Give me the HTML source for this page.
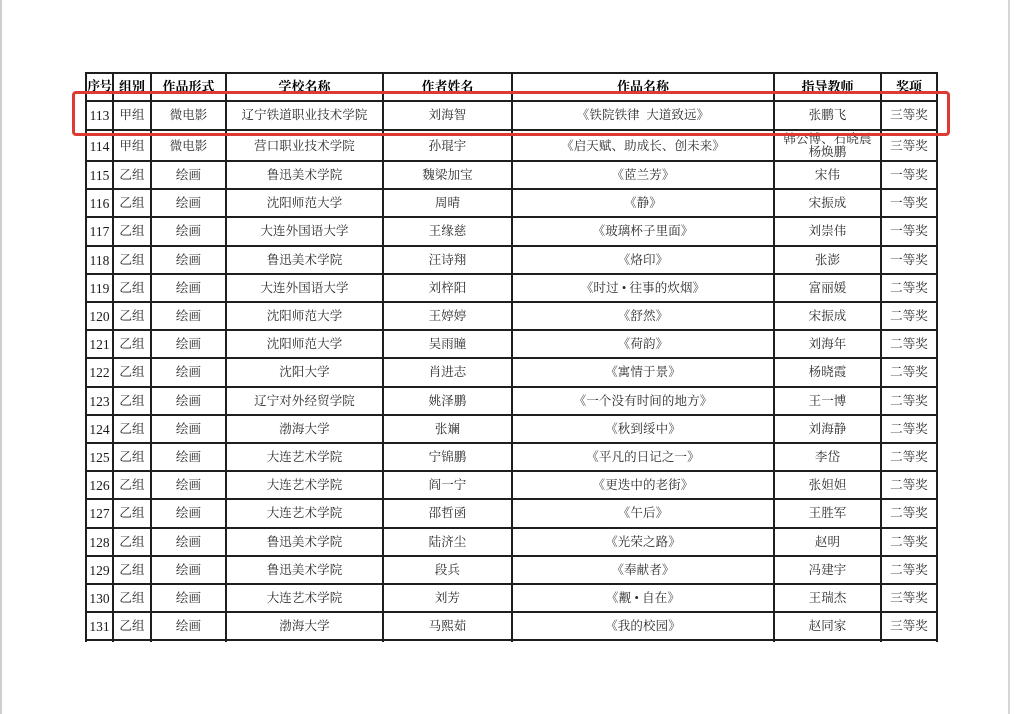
<!DOCTYPE html>
<html>
<head>
<meta charset="utf-8">
<style>
  html,body{margin:0;padding:0;background:#fff;}
  body{width:1014px;height:714px;position:relative;overflow:hidden;
       font-family:"Liberation Serif","Noto Serif CJK SC",serif;color:#2a2a2a;}
  .edgeL{position:absolute;left:0;top:0;width:2px;height:714px;background:#cfcfcf;}
  .edgeR{position:absolute;left:1008px;top:0;width:2px;height:714px;background:#d6d6d6;}
  .h{position:absolute;left:86px;width:852px;height:2px;background:#1e1e1e;}
  .v{position:absolute;top:72px;width:2px;height:570px;background:#1e1e1e;}
  .row{position:absolute;left:86px;width:851px;display:flex;}
  .row > div{flex:none;display:flex;align-items:center;justify-content:center;
       font-size:12.5px;letter-spacing:0.1px;white-space:nowrap;line-height:13px;text-align:center;padding-top:1px;box-sizing:border-box;}
  .c1{width:27px;}.c2{width:38px;}.c3{width:75px;}.c4{width:157px;}
  .c5{width:129px;}.c6{width:262px;}.c7{width:107px;}.c8{width:56px;}
  .row > div.c1{font-family:"Liberation Serif",serif;font-size:13.5px;letter-spacing:0;color:#1a1a1a;}
  .hd > div{font-weight:bold;color:#000;font-size:13px;letter-spacing:0;}
  .hd > div.c1{font-family:"Liberation Serif","Noto Serif CJK SC",serif;font-size:12.5px;letter-spacing:-0.5px;color:#000;}
  .red{position:absolute;left:72px;top:91px;width:878px;height:45px;box-sizing:border-box;
       border:3px solid #dc3a33;border-radius:4px;}
</style>
</head>
<body>
<div class="edgeL"></div>
<div class="edgeR"></div>

<!-- horizontal lines -->
<div class="h" style="top:72px"></div>
<div class="h" style="top:100px"></div>
<div class="h" style="top:129px"></div>
<div class="h" style="top:160px"></div>
<div class="h" style="top:188px"></div>
<div class="h" style="top:216px"></div>
<div class="h" style="top:245px"></div>
<div class="h" style="top:273px"></div>
<div class="h" style="top:301px"></div>
<div class="h" style="top:329px"></div>
<div class="h" style="top:357px"></div>
<div class="h" style="top:386px"></div>
<div class="h" style="top:414px"></div>
<div class="h" style="top:442px"></div>
<div class="h" style="top:470px"></div>
<div class="h" style="top:498px"></div>
<div class="h" style="top:527px"></div>
<div class="h" style="top:555px"></div>
<div class="h" style="top:583px"></div>
<div class="h" style="top:611px"></div>
<div class="h" style="top:639px"></div>

<!-- vertical lines -->
<div class="v" style="left:85px"></div>
<div class="v" style="left:112px"></div>
<div class="v" style="left:150px"></div>
<div class="v" style="left:225px"></div>
<div class="v" style="left:382px"></div>
<div class="v" style="left:511px"></div>
<div class="v" style="left:773px"></div>
<div class="v" style="left:880px"></div>
<div class="v" style="left:936px"></div>

<!-- header -->
<div class="row hd" style="top:72px;height:28px">
  <div class="c1">序号</div><div class="c2">组别</div><div class="c3">作品形式</div><div class="c4">学校名称</div>
  <div class="c5">作者姓名</div><div class="c6">作品名称</div><div class="c7">指导教师</div><div class="c8">奖项</div>
</div>

<div class="row" style="top:100px;height:30px">
  <div class="c1">113</div><div class="c2">甲组</div><div class="c3">微电影</div><div class="c4">辽宁铁道职业技术学院</div>
  <div class="c5">刘海智</div><div class="c6">《铁院铁律&nbsp;&nbsp;大道致远》</div><div class="c7">张鹏飞</div><div class="c8">三等奖</div>
</div>

<div class="row" style="top:130px;height:31px">
  <div class="c1">114</div><div class="c2">甲组</div><div class="c3">微电影</div><div class="c4">营口职业技术学院</div>
  <div class="c5">孙琨宇</div><div class="c6">《启天赋、助成长、创未来》</div><div class="c7" style="flex-direction:column;">韩公博、石晓晨<br>杨焕鹏</div><div class="c8">三等奖</div>
</div>

<div class="row" style="top:161px;height:28.2px">
  <div class="c1">115</div><div class="c2">乙组</div><div class="c3">绘画</div><div class="c4">鲁迅美术学院</div>
  <div class="c5">魏梁加宝</div><div class="c6">《茝兰芳》</div><div class="c7">宋伟</div><div class="c8">一等奖</div>
</div>
<div class="row" style="top:189.2px;height:28.2px">
  <div class="c1">116</div><div class="c2">乙组</div><div class="c3">绘画</div><div class="c4">沈阳师范大学</div>
  <div class="c5">周晴</div><div class="c6">《静》</div><div class="c7">宋振成</div><div class="c8">一等奖</div>
</div>
<div class="row" style="top:217.4px;height:28.2px">
  <div class="c1">117</div><div class="c2">乙组</div><div class="c3">绘画</div><div class="c4">大连外国语大学</div>
  <div class="c5">王缘慈</div><div class="c6">《玻璃杯子里面》</div><div class="c7">刘崇伟</div><div class="c8">一等奖</div>
</div>
<div class="row" style="top:245.6px;height:28.2px">
  <div class="c1">118</div><div class="c2">乙组</div><div class="c3">绘画</div><div class="c4">鲁迅美术学院</div>
  <div class="c5">汪诗翔</div><div class="c6">《烙印》</div><div class="c7">张澎</div><div class="c8">一等奖</div>
</div>
<div class="row" style="top:273.8px;height:28.2px">
  <div class="c1">119</div><div class="c2">乙组</div><div class="c3">绘画</div><div class="c4">大连外国语大学</div>
  <div class="c5">刘梓阳</div><div class="c6">《时过 • 往事的炊烟》</div><div class="c7">富丽媛</div><div class="c8">二等奖</div>
</div>
<div class="row" style="top:302px;height:28.2px">
  <div class="c1">120</div><div class="c2">乙组</div><div class="c3">绘画</div><div class="c4">沈阳师范大学</div>
  <div class="c5">王婷婷</div><div class="c6">《舒然》</div><div class="c7">宋振成</div><div class="c8">二等奖</div>
</div>
<div class="row" style="top:330.2px;height:28.2px">
  <div class="c1">121</div><div class="c2">乙组</div><div class="c3">绘画</div><div class="c4">沈阳师范大学</div>
  <div class="c5">吴雨瞳</div><div class="c6">《荷韵》</div><div class="c7">刘海年</div><div class="c8">二等奖</div>
</div>
<div class="row" style="top:358.4px;height:28.2px">
  <div class="c1">122</div><div class="c2">乙组</div><div class="c3">绘画</div><div class="c4">沈阳大学</div>
  <div class="c5">肖进志</div><div class="c6">《寓情于景》</div><div class="c7">杨晓霞</div><div class="c8">二等奖</div>
</div>
<div class="row" style="top:386.6px;height:28.2px">
  <div class="c1">123</div><div class="c2">乙组</div><div class="c3">绘画</div><div class="c4">辽宁对外经贸学院</div>
  <div class="c5">姚泽鹏</div><div class="c6">《一个没有时间的地方》</div><div class="c7">王一博</div><div class="c8">二等奖</div>
</div>
<div class="row" style="top:414.8px;height:28.2px">
  <div class="c1">124</div><div class="c2">乙组</div><div class="c3">绘画</div><div class="c4">渤海大学</div>
  <div class="c5">张斓</div><div class="c6">《秋到绥中》</div><div class="c7">刘海静</div><div class="c8">二等奖</div>
</div>
<div class="row" style="top:443px;height:28.2px">
  <div class="c1">125</div><div class="c2">乙组</div><div class="c3">绘画</div><div class="c4">大连艺术学院</div>
  <div class="c5">宁锦鹏</div><div class="c6">《平凡的日记之一》</div><div class="c7">李岱</div><div class="c8">二等奖</div>
</div>
<div class="row" style="top:471.2px;height:28.2px">
  <div class="c1">126</div><div class="c2">乙组</div><div class="c3">绘画</div><div class="c4">大连艺术学院</div>
  <div class="c5">阎一宁</div><div class="c6">《更迭中的老街》</div><div class="c7">张妲妲</div><div class="c8">二等奖</div>
</div>
<div class="row" style="top:499.4px;height:28.2px">
  <div class="c1">127</div><div class="c2">乙组</div><div class="c3">绘画</div><div class="c4">大连艺术学院</div>
  <div class="c5">邵哲函</div><div class="c6">《午后》</div><div class="c7">王胜军</div><div class="c8">二等奖</div>
</div>
<div class="row" style="top:527.6px;height:28.2px">
  <div class="c1">128</div><div class="c2">乙组</div><div class="c3">绘画</div><div class="c4">鲁迅美术学院</div>
  <div class="c5">陆济尘</div><div class="c6">《光荣之路》</div><div class="c7">赵明</div><div class="c8">二等奖</div>
</div>
<div class="row" style="top:555.8px;height:28.2px">
  <div class="c1">129</div><div class="c2">乙组</div><div class="c3">绘画</div><div class="c4">鲁迅美术学院</div>
  <div class="c5">段兵</div><div class="c6">《奉献者》</div><div class="c7">冯建宇</div><div class="c8">二等奖</div>
</div>
<div class="row" style="top:584px;height:28.2px">
  <div class="c1">130</div><div class="c2">乙组</div><div class="c3">绘画</div><div class="c4">大连艺术学院</div>
  <div class="c5">刘芳</div><div class="c6">《觏 • 自在》</div><div class="c7">王瑞杰</div><div class="c8">三等奖</div>
</div>
<div class="row" style="top:612.2px;height:28.2px">
  <div class="c1">131</div><div class="c2">乙组</div><div class="c3">绘画</div><div class="c4">渤海大学</div>
  <div class="c5">马熙茹</div><div class="c6">《我的校园》</div><div class="c7">赵同家</div><div class="c8">三等奖</div>
</div>

<div class="red"></div>
</body>
</html>
